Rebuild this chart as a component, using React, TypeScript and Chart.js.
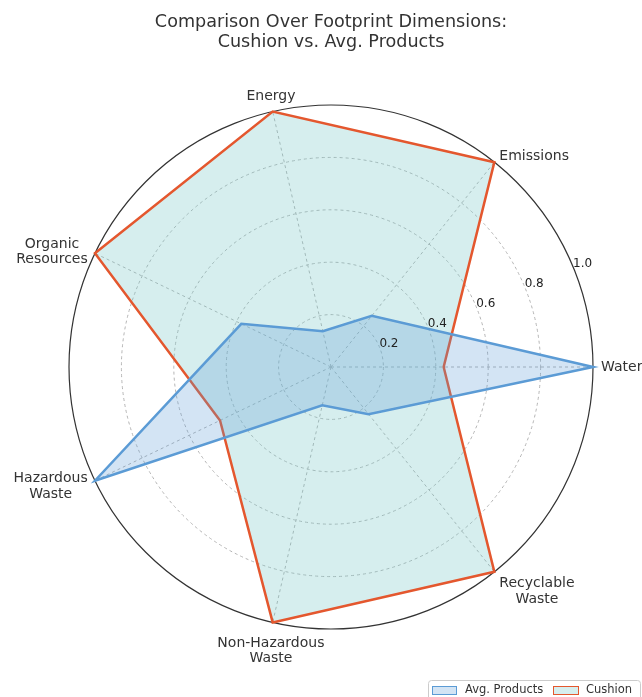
import React, { useEffect, useRef } from "react";
import { Chart, registerables } from "chart.js";

Chart.register(...registerables);

// Categories in clockwise drawing order starting at the right (Water)
const categories: (string | string[])[] = [
  "Water",
  ["Recyclable", "Waste"],
  ["Non-Hazardous", "Waste"],
  ["Hazardous", "Waste"],
  ["Organic", "Resources"],
  "Energy",
  "Emissions",
];

const avgProducts = [1.0, 0.23, 0.15, 1.0, 0.38, 0.14, 0.25];
const cushion = [0.43, 1.0, 1.0, 0.47, 1.0, 1.0, 1.0];

const radialTicks = [0.2, 0.4, 0.6, 0.8, 1.0];
const titleLines = ["Comparison Over Footprint Dimensions:", "Cushion vs. Avg. Products"];
const seriesNames = ["Avg. Products", "Cushion"];

const FONT = "'DejaVu Sans', sans-serif";
const BLUE = "#5b9bd5";
const BLUE_FILL = "rgba(91,155,213,0.27)";
const ORANGE = "#e4572e";
const TEAL_FILL = "rgba(120,200,200,0.3)";

const overlayPlugin = {
  id: "overlay",
  afterDraw(chart: any) {
    const ctx = chart.ctx as CanvasRenderingContext2D;
    const scale = chart.scales.r;
    const xc = scale.xCenter;
    const yc = scale.yCenter;
    const R = scale.drawingArea;
    ctx.save();

    // point labels
    ctx.font = `14px ${FONT}`;
    ctx.fillStyle = "#333";
    const lh = 15.5;
    categories.forEach((lab, i) => {
      const lines = Array.isArray(lab) ? lab : [lab];
      const p = scale.getPointPosition(i, R + 8);
      const dx = p.x - xc;
      const dy = yc - p.y;
      const d = Math.hypot(dx, dy);
      const c = dx / d;
      const s = dy / d;
      const widths = lines.map((l) => ctx.measureText(l).width);
      const bw = Math.max(...widths);
      const bh = lines.length * lh;
      let left: number;
      if (c > 0.3) left = p.x;
      else if (c < -0.3) left = p.x - bw;
      else left = p.x - bw / 2;
      let top: number;
      if (s > 0.9) top = p.y - bh;
      else if (s < -0.9) top = p.y + 5;
      else if (s < -0.5) top = p.y - 2;
      else top = p.y - bh / 2 + (lines.length > 1 ? 2 : 0);
      ctx.textAlign = "center";
      ctx.textBaseline = "middle";
      lines.forEach((l, k) => {
        ctx.fillText(l, left + bw / 2, top + lh * k + lh / 2);
      });
    });

    // radial tick labels
    ctx.font = `12px ${FONT}`;
    ctx.fillStyle = "#222";
    ctx.textAlign = "left";
    ctx.textBaseline = "alphabetic";
    const ang = (22.5 * Math.PI) / 180;
    radialTicks.forEach((v) => {
      const d = scale.getDistanceFromCenterForValue(v);
      ctx.fillText(v.toFixed(1), xc + d * Math.cos(ang), yc - d * Math.sin(ang));
    });

    // title
    ctx.font = `17.6px ${FONT}`;
    ctx.fillStyle = "#333";
    ctx.textAlign = "center";
    ctx.textBaseline = "middle";
    ctx.fillText(titleLines[0], 331, 22);
    ctx.fillText(titleLines[1], 331, 42);

    // legend
    ctx.beginPath();
    ctx.roundRect(428.5, 680.5, 212, 24, 3);
    ctx.fillStyle = "rgba(255,255,255,0.8)";
    ctx.fill();
    ctx.strokeStyle = "#cccccc";
    ctx.lineWidth = 1;
    ctx.stroke();
    ctx.font = `11.5px ${FONT}`;
    ctx.textAlign = "left";
    ctx.textBaseline = "middle";
    // swatch 1
    ctx.fillStyle = BLUE_FILL;
    ctx.fillRect(432, 686, 24, 8);
    ctx.strokeStyle = BLUE;
    ctx.strokeRect(432.5, 686.5, 24, 8);
    ctx.fillStyle = "#333";
    ctx.fillText(seriesNames[0], 465, 690.5);
    // swatch 2
    ctx.fillStyle = TEAL_FILL;
    ctx.fillRect(553, 686, 25, 8);
    ctx.strokeStyle = ORANGE;
    ctx.strokeRect(553.5, 686.5, 25, 8);
    ctx.fillStyle = "#333";
    ctx.fillText(seriesNames[1], 586, 690.5);

    ctx.restore();
  },
};

export default function App() {
  const ref = useRef<HTMLCanvasElement | null>(null);
  useEffect(() => {
    if (!ref.current) return;
    const chart = new Chart(ref.current, {
      type: "radar",
      data: {
        labels: categories as any,
        datasets: [
          {
            label: seriesNames[0],
            data: avgProducts,
            borderColor: BLUE,
            backgroundColor: BLUE_FILL,
            borderWidth: 2.5,
            pointRadius: 0,
            fill: true,
            tension: 0,
            order: 0,
          },
          {
            label: seriesNames[1],
            data: cushion,
            borderColor: ORANGE,
            backgroundColor: TEAL_FILL,
            borderWidth: 2.5,
            pointRadius: 0,
            fill: true,
            tension: 0,
            order: 1,
          },
        ],
      },
      options: {
        responsive: false,
        animation: false,
        layout: { padding: { left: 69, right: 48, top: 105, bottom: 68 } },
        plugins: {
          legend: { display: false },
          title: { display: false },
          tooltip: { enabled: false },
        },
        scales: {
          r: {
            min: 0,
            max: 1,
            startAngle: 90,
            ticks: { display: false, stepSize: 0.2 },
            pointLabels: { display: false },
            grid: {
              circular: true,
              color: (c: any) => (c.tick && c.tick.value > 0.99 ? "#333333" : "#b4b4b4"),
              lineWidth: (c: any) => (c.tick && c.tick.value > 0.99 ? 1.2 : 1),
            },
            border: {
              dash: (c: any) => (c.tick && c.tick.value > 0.99 ? [] : [3, 3]),
            } as any,
            angleLines: { color: "#b4b4b4", borderDash: [3, 3], lineWidth: 1 },
          },
        },
      },
      plugins: [overlayPlugin],
    });
    return () => chart.destroy();
  }, []);
  return (
    <div style={{ position: "absolute", left: 0, top: 0, width: 642, height: 697 }}>
      <canvas ref={ref} width={642} height={697} style={{ width: 642, height: 697 }} />
    </div>
  );
}
